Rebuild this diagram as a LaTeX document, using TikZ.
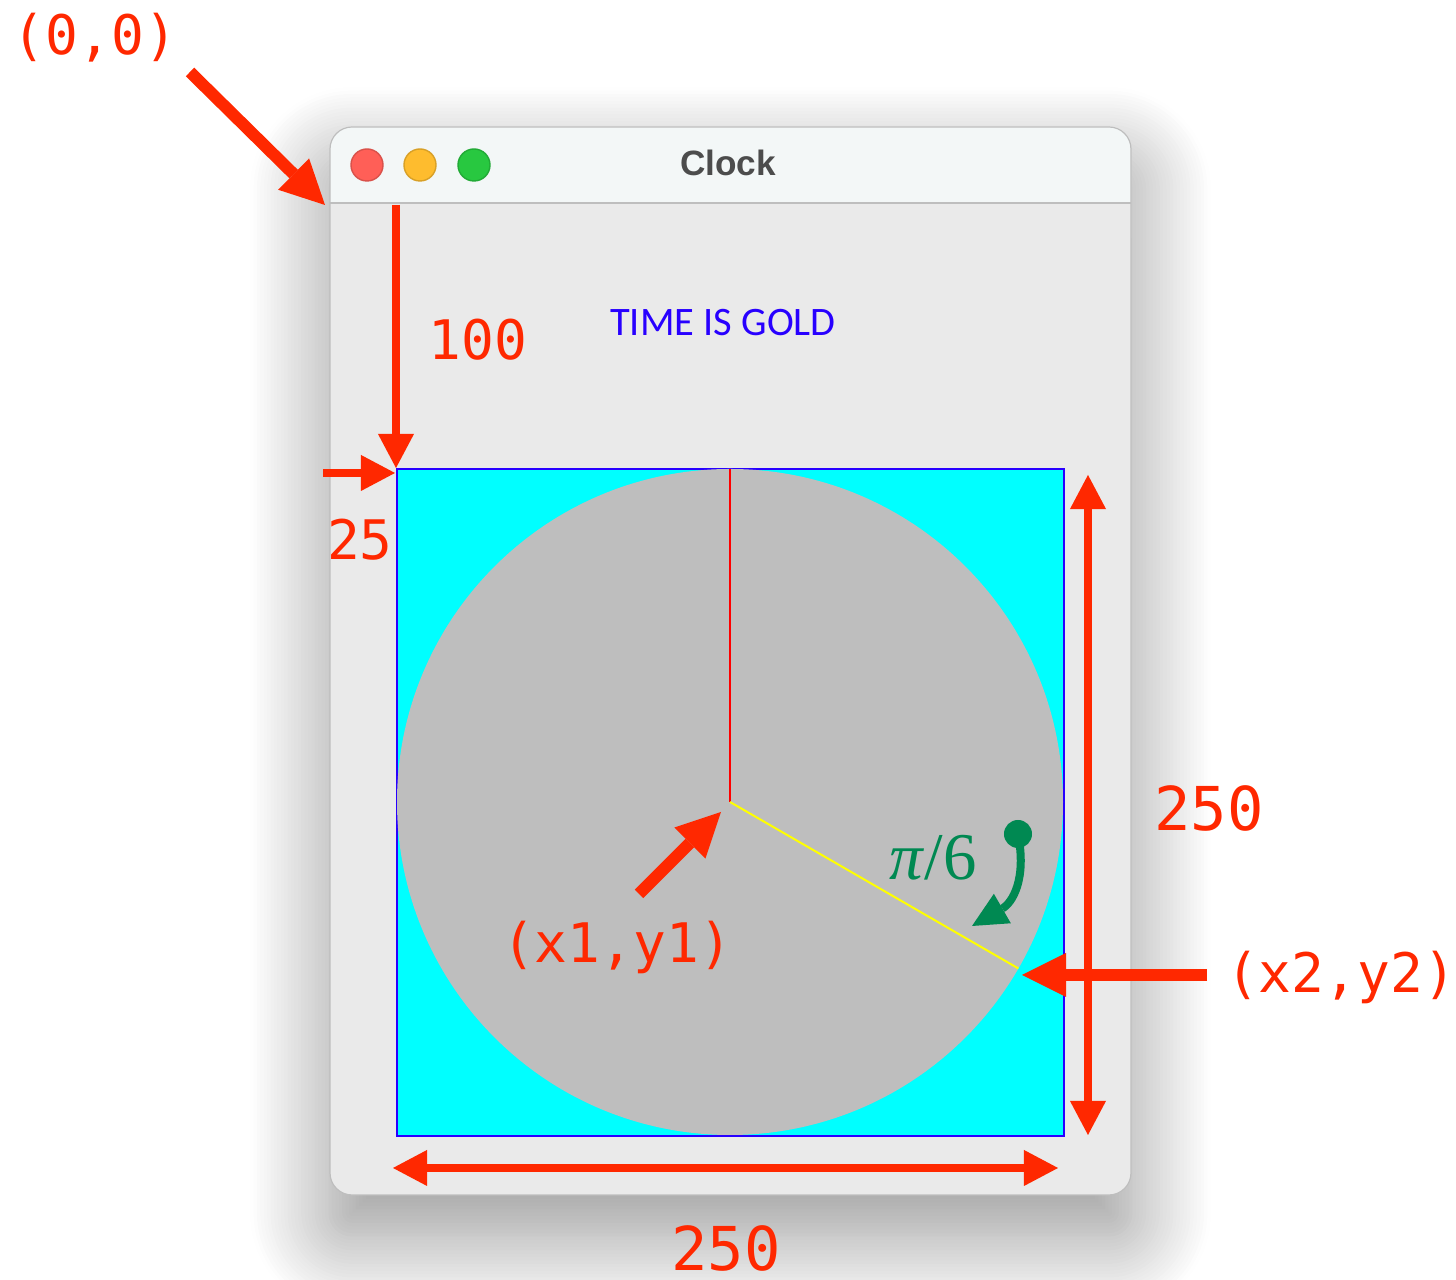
\documentclass[tikz,border=0pt]{standalone}
\usepackage{fontspec}
\usetikzlibrary{arrows.meta,shadows.blur}
\newfontfamily\monofont{DejaVu Sans Mono}
\newfontfamily\titlefont{Liberation Sans}
\newfontfamily\mottofont{Carlito}
\newfontfamily\anglefont{Liberation Serif}

\definecolor{markred}{RGB}{255,40,0}
\definecolor{markgreen}{RGB}{0,137,82}
\definecolor{winbody}{RGB}{234,234,234}
\definecolor{winbar}{RGB}{243,247,247}
\definecolor{winline}{RGB}{190,190,190}
\definecolor{faceblue}{RGB}{40,0,255}
\definecolor{facecyan}{RGB}{0,255,255}
\definecolor{dialgray}{RGB}{190,190,190}
\definecolor{handyellow}{RGB}{255,255,0}
\definecolor{lampred}{RGB}{255,95,87}
\definecolor{lampyellow}{RGB}{254,188,46}
\definecolor{lampgreen}{RGB}{40,200,64}

\tikzset{
  dim/.style={text=markred, font=\monofont\fontsize{15.5}{18}\selectfont},
  bigdim/.style={dim, font=\monofont\fontsize{17.2}{20}\selectfont},
  fatarrow/.style={draw=markred, line width=0.12cm,
    -{Triangle[length=0.44cm,width=0.44cm,line width=0pt]}},
  thinarrow/.style={draw=markred, line width=0.075cm,
    -{Triangle[length=0.34cm,width=0.36cm,line width=0pt]}},
  spanarrow/.style={draw=markred, line width=0.08cm,
    {Triangle[length=0.34cm,width=0.36cm,line width=0pt]}-{Triangle[length=0.34cm,width=0.36cm,line width=0pt]}},
  winlamp/.style={circle, minimum size=0.32cm, inner sep=0pt}
}

\begin{document}
\begin{tikzpicture}[x=0.01cm, y=-0.01cm]
  \useasboundingbox (0,0) rectangle (1456,1280);

  % window with title bar
  \fill[winbody, rounded corners=0.22cm,
    blur shadow={shadow xshift=0cm, shadow yshift=-0.4cm, shadow blur radius=0.8cm, shadow blur steps=24, shadow opacity=42}]
    (330,127) rectangle (1131,1195);
  \fill[winbar, rounded corners=0.22cm] (330,127) rectangle (1131,260);
  \fill[winbody] (330,203) rectangle (1131,300);
  \draw[winline, line width=0.02cm] (330,203) -- (1131,203);
  \draw[winline, line width=0.012cm, rounded corners=0.22cm] (330,127) rectangle (1131,1195);

  \node[winlamp, fill=lampred, draw=lampred!85!black] (close) at (367,165) {};
  \node[winlamp, fill=lampyellow, draw=lampyellow!85!black] (minimize) at (420,165) {};
  \node[winlamp, fill=lampgreen, draw=lampgreen!85!black] (zoom) at (474,165) {};
  \node[text=black!70, font=\titlefont\bfseries\fontsize{10}{12}\selectfont] (title) at (728,163) {Clock};

  \node[text=faceblue, font=\mottofont\fontsize{11.5}{14}\selectfont] (motto) at (723,323) {TIME IS GOLD};

  % clock face
  \coordinate (corner) at (397,469);
  \coordinate (hub) at (730,802);
  \coordinate (noon) at (730,469);
  \coordinate (rim) at (1018.4,968.5);
  \fill[facecyan] (397,469) rectangle (1064,1136);
  \draw[faceblue, line width=0.02cm] (397,469) rectangle (1064,1136);
  \fill[dialgray] (hub) circle[radius=333];
  \draw[red, line width=0.02cm] (hub) -- (noon);
  \draw[handyellow, line width=0.02cm] (hub) -- (rim);

  % dimension marks
  \coordinate (tail00) at (190,72);
  \coordinate (origin) at (325,205);
  \node[dim] (lorigin) at (95,38) {(0,0)};
  \draw[fatarrow] (tail00) -- (origin);

  \coordinate (top100) at (396,205);
  \draw[thinarrow] (top100) -- (396,468);
  \node[dim] (l100) at (478,340) {100};

  \coordinate (left25) at (323,473);
  \draw[thinarrow] (left25) -- (395,473);
  \node[dim] (l25) at (360,540) {25};

  \coordinate (vtop) at (1088,475);
  \coordinate (vbot) at (1088,1135);
  \draw[spanarrow] (vtop) -- (vbot);
  \node[bigdim] (lheight) at (1209,808) {250};

  \coordinate (hleft) at (393,1168);
  \coordinate (hright) at (1058,1168);
  \draw[spanarrow] (hleft) -- (hright);
  \node[bigdim] (lwidth) at (726,1248) {250};

  \coordinate (tail2) at (1207,975);
  \coordinate (tip2) at (1022,975);
  \draw[fatarrow] (tail2) -- (tip2);
  \node[dim] (lend) at (1341,978) {(x2,y2)};

  \coordinate (tail1) at (639,894);
  \coordinate (tip1) at (721,812);
  \draw[fatarrow] (tail1) -- (tip1);
  \node[dim] (lstart) at (617,948) {(x1,y1)};

  % angle mark
  \node[circle, fill=markgreen, minimum size=0.28cm, inner sep=0pt] (gdot) at (1018,834) {};
  \coordinate (gtip) at (972,926);
  \draw[markgreen, line width=0.08cm, -{Triangle[length=0.35cm,width=0.34cm,line width=0pt]}]
    (gdot.center) .. controls (1027,880) and (1012,903) .. (gtip);
  \node[text=markgreen, font=\anglefont\fontsize{19}{22}\selectfont] (langle) at (933,858) {\textit{π}/6};

\end{tikzpicture}
\end{document}
